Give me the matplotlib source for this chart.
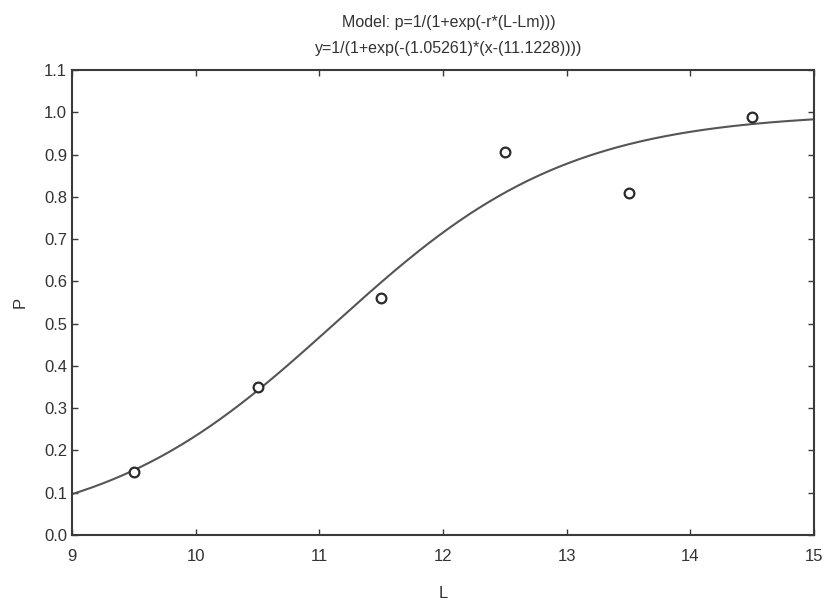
import numpy as np
import matplotlib
matplotlib.use("Agg")
import matplotlib.pyplot as plt

plt.rcParams['font.family'] = ['Liberation Sans', 'DejaVu Sans']

# observed points
L_obs = [9.5, 10.5, 11.5, 12.5, 13.5, 14.5]
p_obs = [0.15, 0.35, 0.56, 0.905, 0.81, 0.99]

# fitted model parameters (from the title)
r = 1.05261
Lm = 11.1228

xticks = [9, 10, 11, 12, 13, 14, 15]
yticks = [0.0, 0.1, 0.2, 0.3, 0.4, 0.5, 0.6, 0.7, 0.8, 0.9, 1.0, 1.1]

col = '#3a3a3a'

fig = plt.figure(figsize=(8.24, 6.01), dpi=100)
ax = fig.add_axes([0.0874, 0.1098, 0.9006, 0.7737])

x = np.linspace(9, 15, 300)
y = 1 / (1 + np.exp(-r * (x - Lm)))
ax.plot(x, y, color='#555555', lw=1.5)
ax.plot(L_obs, p_obs, 'o', mfc='white', mec='#2a2a2a', mew=1.6, ms=7, ls='none')

ax.set_xlim(9, 15)
ax.set_ylim(0, 1.1)
ax.set_xticks(xticks)
ax.set_yticks(yticks)
ax.set_yticklabels(['%.1f' % v for v in yticks])
ax.tick_params(direction='in', length=4, width=1, colors=col, labelsize=12,
               top=True, right=True, labelcolor='#333333')
ax.tick_params(axis='x', pad=10)
for s in ax.spines.values():
    s.set_color(col)
    s.set_linewidth(1.5)

ax.set_xlabel('L', fontsize=12, color='#333333', labelpad=16)
ax.set_ylabel('P', fontsize=12, color='#333333', labelpad=12)

fig.text(0.545, 0.962, 'Model: p=1/(1+exp(-r*(L-Lm)))', ha='center', va='center',
         fontsize=11.5, color='#333333')
fig.text(0.545, 0.920, 'y=1/(1+exp(-(1.05261)*(x-(11.1228))))', ha='center', va='center',
         fontsize=11.5, color='#333333')

fig.savefig('out.png', dpi=100)
